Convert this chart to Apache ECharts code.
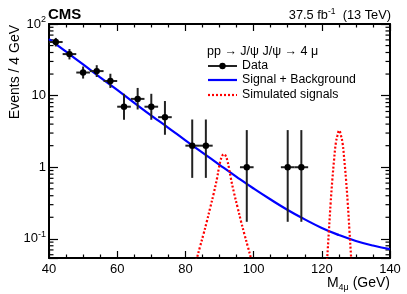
<!DOCTYPE html>
<html><head><meta charset="utf-8">
<script src="https://cdn.jsdelivr.net/npm/echarts@6/dist/echarts.min.js"></script>
<style>html,body{margin:0;padding:0;background:#fff}#c{width:407px;height:294px}</style>
</head><body><div id="c"></div>
<script>
// ---- data ----
const dataX  = [42, 46, 50, 54, 58, 62, 66, 70, 74, 82, 86, 98, 110, 114];
const dataY  = [56, 38, 21, 22, 16, 7, 9, 7, 5, 2, 2, 1, 1, 1];
const dataLo = [48.5, 32.0, 17.3, 18.2, 12.8, 4.6, 6.4, 4.6, 2.84, 0.71, 0.71, 0.173, 0.173, 0.173];
const dataHi = [63.9, 44.7, 25.5, 26.6, 20.2, 10.6, 12.8, 10.6, 8.4, 4.64, 4.64, 3.3, 3.3, 3.3];
const binHalfWidth = 2; // 4 GeV bins

const fitX = [40, 45, 50, 55, 60, 65, 70, 75, 80, 85, 90, 95, 100, 105, 110, 115, 120, 125, 130, 135, 140];
const fitY = [61.7, 41.0, 27.2, 18.0, 12.0, 7.94, 5.27, 3.55, 2.37, 1.60, 1.08, 0.734, 0.505, 0.354, 0.253, 0.187, 0.142, 0.113, 0.0935, 0.0806, 0.072];

const sig1X = [82.3, 83.3, 84.3, 85.3, 86.3, 87.3, 88.3, 89.3, 89.8, 90.3, 90.8, 91.3, 91.8, 92.3, 92.8, 93.3, 94.3, 95.3, 96.3, 97.3, 98.3, 99.3, 100.3];
const sig1Y = [0.034, 0.052, 0.078, 0.116, 0.176, 0.275, 0.43, 0.71, 0.965, 1.24, 1.45, 1.53, 1.45, 1.24, 0.965, 0.71, 0.43, 0.275, 0.176, 0.116, 0.078, 0.052, 0.034];

const sig2X = [120.6, 121.1, 121.6, 122.1, 122.6, 123.1, 123.6, 124.1, 124.6, 125.1, 125.6, 126.1, 126.6, 127.1, 127.6, 128.1, 128.6, 129.1, 129.6];
const sig2Y = [0.0073, 0.021, 0.054, 0.133, 0.32, 0.68, 1.27, 2.16, 2.79, 3.27, 2.79, 2.16, 1.27, 0.68, 0.32, 0.133, 0.054, 0.021, 0.0073];

const yMinorTicks = [0.06, 0.07, 0.08, 0.09, 0.2, 0.3, 0.4, 0.5, 0.6, 0.7, 0.8, 0.9, 2, 3, 4, 5, 6, 7, 8, 9, 20, 30, 40, 50, 60, 70, 80, 90];

const xMin = 40, xMax = 140, xStep = 20;
const yMin = 0.054, yMax = 100;

const FONT = '"Liberation Sans", Arial, Helvetica, sans-serif';

const chart = echarts.init(document.getElementById('c'), null, {renderer: 'canvas'});

const points = dataX.map((x, i) => [x, dataY[i], dataLo[i], dataHi[i]]);
const zip = (a, b) => a.map((v, i) => [v, b[i]]);

function yLabel(v) {
  const l = Math.log10(v);
  const e = Math.round(l);
  if (Math.abs(l - e) > 1e-6) return '';
  if (e === 1) return '{b|10}';
  if (e === 0) return '{b|1}';
  return '{b|10}{s|' + e + '}';
}

const axisCommon = {
  axisLine: {show: true, lineStyle: {color: '#000', width: 2}},
  splitLine: {show: false},
};

chart.setOption({
  animation: false,
  backgroundColor: '#fff',
  grid: {left: 49, right: 17, top: 24, bottom: 36, containLabel: false},
  xAxis: [
    Object.assign({
      type: 'value', min: xMin, max: xMax, interval: xStep, position: 'bottom',
      axisTick: {show: true, inside: true, length: 7, lineStyle: {color: '#000', width: 1.2}},
      minorTick: {show: true, splitNumber: 4, length: 3.5, lineStyle: {color: '#000', width: 1.2}},
      axisLabel: {show: true, color: '#000', fontSize: 13, fontFamily: FONT, margin: 5},
    }, axisCommon),
    Object.assign({
      type: 'value', min: xMin, max: xMax, interval: xStep, position: 'top',
      axisTick: {show: true, inside: true, length: 7, lineStyle: {color: '#000', width: 1.2}},
      minorTick: {show: true, splitNumber: 4, length: 3.5, lineStyle: {color: '#000', width: 1.2}},
      axisLabel: {show: false},
    }, axisCommon)
  ],
  yAxis: [
    Object.assign({
      type: 'log', logBase: 10, min: yMin, max: yMax, position: 'left',
      axisTick: {show: true, inside: true, length: 9, lineStyle: {color: '#000', width: 1.2}},
      axisLabel: {
        show: true, color: '#000', margin: 3, formatter: yLabel,
        rich: {
          b: {fontSize: 13, fontFamily: FONT, color: '#000', lineHeight: 18},
          s: {fontSize: 9, fontFamily: FONT, color: '#000', verticalAlign: 'top'}
        }
      },
    }, axisCommon),
    Object.assign({
      type: 'log', logBase: 10, min: yMin, max: yMax, position: 'right',
      axisTick: {show: true, inside: true, length: 9, lineStyle: {color: '#000', width: 1.2}},
      axisLabel: {show: false},
    }, axisCommon)
  ],
  series: [
    {
      type: 'custom', name: 'yMinor', xAxisIndex: 0, yAxisIndex: 0, silent: true,
      data: yMinorTicks.map(v => [xMin, v]),
      encode: {x: 0, y: 1},
      renderItem: function (params, api) {
        const v = api.value(1);
        const L = api.coord([xMin, v]);
        const R = api.coord([xMax, v]);
        const st = {stroke: '#000', lineWidth: 1.2};
        return {type: 'group', children: [
          {type: 'line', shape: {x1: L[0], y1: L[1], x2: L[0] + 4.5, y2: L[1]}, style: st},
          {type: 'line', shape: {x1: R[0] - 4.5, y1: R[1], x2: R[0], y2: R[1]}, style: st}
        ]};
      }
    },
    {
      type: 'line', name: 'Signal + Background', data: zip(fitX, fitY), smooth: true,
      showSymbol: false, clip: true,
      lineStyle: {color: '#0000ff', width: 2.2}, z: 3
    },
    {
      type: 'line', name: 'Simulated signals 1', data: zip(sig1X, sig1Y), smooth: 0.4,
      showSymbol: false, clip: true,
      lineStyle: {color: '#ff0000', width: 2.2, type: [2, 2]}, z: 3
    },
    {
      type: 'line', name: 'Simulated signals 2', data: zip(sig2X, sig2Y), smooth: 0.4,
      showSymbol: false, clip: true,
      lineStyle: {color: '#ff0000', width: 2.2, type: [2, 2]}, z: 3
    },
    {
      type: 'custom', name: 'Data', xAxisIndex: 0, yAxisIndex: 0, z: 4,
      data: points, encode: {x: 0, y: 1},
      renderItem: function (params, api) {
        const x = api.value(0), y = api.value(1), lo = api.value(2), hi = api.value(3);
        const c = api.coord([x, y]);
        const l = api.coord([x - binHalfWidth, y]);
        const r = api.coord([x + binHalfWidth, y]);
        const t = api.coord([x, hi]);
        const b = api.coord([x, lo]);
        const st = {stroke: '#222', lineWidth: 2};
        return {type: 'group', children: [
          {type: 'line', shape: {x1: l[0], y1: c[1], x2: r[0], y2: c[1]}, style: st},
          {type: 'line', shape: {x1: c[0], y1: t[1], x2: c[0], y2: b[1]}, style: st},
          {type: 'circle', shape: {cx: c[0], cy: c[1], r: 3.2}, style: {fill: '#000'}}
        ]};
      }
    }
  ],
  graphic: [
    {type: 'text', left: 48, top: 7, style: {text: 'CMS', font: 'bold 15px ' + FONT, fill: '#000'}},
    {type: 'text', x: 391, y: 15, style: {
      text: '{m|37.5 fb}{s|-1}{m|  (13 TeV)}', align: 'right', verticalAlign: 'middle',
      rich: {m: {fontSize: 12.8, fontFamily: FONT, color: '#000', lineHeight: 16},
             s: {fontSize: 8.5, fontFamily: FONT, color: '#000', verticalAlign: 'top'}}
    }},
    {type: 'text', x: 15, y: 25, rotation: Math.PI / 2, style: {
      text: 'Events / 4 GeV', font: '14px ' + FONT, fill: '#000', align: 'right', verticalAlign: 'middle'
    }},
    {type: 'text', x: 390, y: 283, style: {
      text: '{m|M}{u|4μ}{m| (GeV)}', align: 'right', verticalAlign: 'middle',
      rich: {m: {fontSize: 14, fontFamily: FONT, color: '#000', lineHeight: 18},
             u: {fontSize: 9, fontFamily: FONT, color: '#000', verticalAlign: 'bottom'}}
    }},
    {type: 'text', x: 207, y: 52, style: {
      text: 'pp → J/ψ J/ψ → 4 μ', font: '12.5px ' + FONT, fill: '#000', verticalAlign: 'middle'
    }},
    {type: 'line', shape: {x1: 208, y1: 66, x2: 237, y2: 66}, style: {stroke: '#222', lineWidth: 2}},
    {type: 'circle', shape: {cx: 222.5, cy: 66, r: 3.2}, style: {fill: '#000'}},
    {type: 'text', x: 242, y: 66, style: {text: 'Data', font: '12.3px ' + FONT, fill: '#000', verticalAlign: 'middle'}},
    {type: 'line', shape: {x1: 208, y1: 80, x2: 237, y2: 80}, style: {stroke: '#0000ff', lineWidth: 2.2}},
    {type: 'text', x: 242, y: 80, style: {text: 'Signal + Background', font: '12.3px ' + FONT, fill: '#000', verticalAlign: 'middle'}},
    {type: 'line', shape: {x1: 208, y1: 95, x2: 237, y2: 95}, style: {stroke: '#ff0000', lineWidth: 2.2, lineDash: [2, 2]}},
    {type: 'text', x: 242, y: 95, style: {text: 'Simulated signals', font: '12.3px ' + FONT, fill: '#000', verticalAlign: 'middle'}}
  ]
});
</script>
</body></html>
